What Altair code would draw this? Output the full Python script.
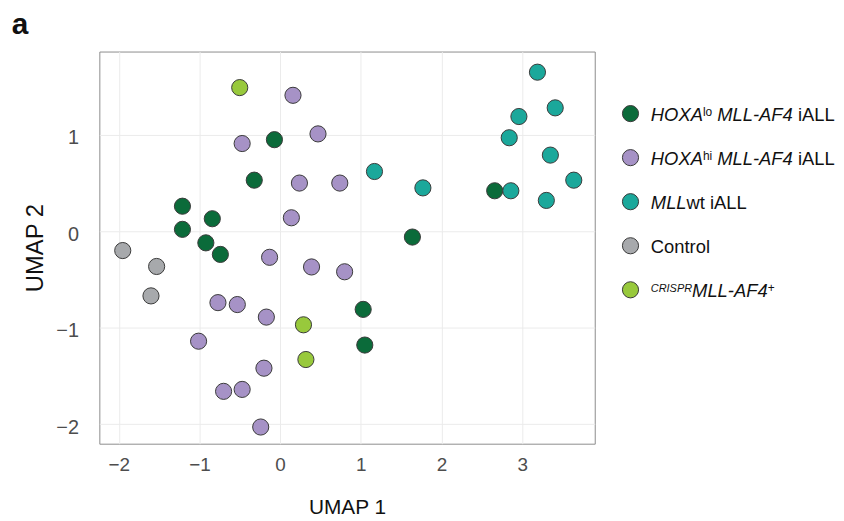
import altair as alt
import pandas as pd

FONT = "Liberation Sans, Arial, Helvetica, sans-serif"

# ---------------- data ----------------
groups = ["HOXAlo", "HOXAhi", "MLLwt", "Control", "CRISPR"]
colors = ["#0b6b3a", "#a692c6", "#1ba89b", "#a7a9ac", "#98c93c"]

control_x = [-1.95, -1.53, -1.60]
control_y = [-0.20, -0.365, -0.67]

hoxa_hi_x = [0.16, -0.47, 0.47, 0.24, 0.74, 0.14, -0.13, 0.39, 0.80, -0.77,
             -0.53, -0.17, -1.01, -0.20, -0.70, -0.47, -0.24]
hoxa_hi_y = [1.41, 0.91, 1.01, 0.50, 0.50, 0.14, -0.27, -0.37, -0.42, -0.74,
             -0.76, -0.89, -1.14, -1.42, -1.66, -1.64, -2.03]

hoxa_lo_x = [-0.07, -0.32, -1.21, -0.84, -1.21, -0.92, -0.74, 2.66, 1.64, 1.03, 1.05]
hoxa_lo_y = [0.95, 0.53, 0.26, 0.13, 0.02, -0.12, -0.24, 0.42, -0.06, -0.81, -1.18]

mllwt_x = [3.19, 3.41, 2.96, 2.84, 3.35, 1.17, 3.64, 1.77, 2.86, 3.30]
mllwt_y = [1.65, 1.28, 1.19, 0.97, 0.79, 0.62, 0.53, 0.45, 0.42, 0.32]

crispr_x = [-0.50, 0.29, 0.32]
crispr_y = [1.49, -0.97, -1.33]

x_ticks = [-2, -1.5, -1, -0.5, 0, 0.5, 1, 1.5, 2, 2.5, 3, 3.5]
y_ticks = [-2, -1.5, -1, -0.5, 0, 0.5, 1, 1.5]

# legend label pieces: (text, style, level) level 0 = normal, 1 = superscript, 2 = small superscript
legend_pieces = {
    "HOXAlo": [("HOXA", "italic", 0), ("lo", "normal", 1), (" MLL-AF4", "italic", 0), (" iALL", "normal", 0)],
    "HOXAhi": [("HOXA", "italic", 0), ("hi", "normal", 1), (" MLL-AF4", "italic", 0), (" iALL", "normal", 0)],
    "MLLwt": [("MLL", "italic", 0), ("wt iALL", "normal", 0)],
    "Control": [("Control", "normal", 0)],
    "CRISPR": [("CRISPR", "italic", 2), ("MLL-AF4", "italic", 0), ("+", "normal", 1)],
}

# ---------------- tables ----------------
rows = []
for g, xs, ys in [("Control", control_x, control_y), ("HOXAhi", hoxa_hi_x, hoxa_hi_y),
                  ("HOXAlo", hoxa_lo_x, hoxa_lo_y), ("MLLwt", mllwt_x, mllwt_y),
                  ("CRISPR", crispr_x, crispr_y)]:
    for xv, yv in zip(xs, ys):
        rows.append({"group": g, "u1": xv, "u2": yv})
df = pd.DataFrame(rows)
df["ord"] = range(len(df))

# Arial / Liberation Sans advance widths (per 1000 em) for laying out legend pieces
W = {' ': 278, '-': 333, '+': 584, '4': 556, 'A': 667, 'C': 722, 'F': 611, 'H': 722,
     'I': 278, 'L': 556, 'M': 833, 'O': 778, 'P': 667, 'R': 722, 'S': 667, 'X': 667,
     'h': 556, 'i': 222, 'l': 222, 'n': 556, 'o': 556, 'r': 333, 't': 278, 'w': 722}
LEVEL_SIZE = {0: 18.5, 1: 12, 2: 11}
TEXT_START = 29.5

prow = []
for g in groups:
    xpos = TEXT_START
    for txt, style, lvl in legend_pieces[g]:
        fs = LEVEL_SIZE[lvl]
        lead = len(txt) - len(txt.lstrip(' '))
        xpos += sum(W[c] for c in txt[:lead]) * fs / 1000
        body = txt.lstrip(' ')
        prow.append({"group": g, "text": body, "style": style,
                     "sup": lvl > 0, "fs": fs, "xpos": xpos})
        xpos += sum(W[c] for c in body) * fs / 1000
pieces = pd.DataFrame(prow)
legend_df = pd.DataFrame({"group": groups})

color_scale = alt.Scale(domain=groups, range=colors)

# ---------------- main scatter ----------------
label_expr = "datum.value % 1 === 0 ? datum.label : ''"

scatter = alt.Chart(df).mark_circle(
    size=265, opacity=1, stroke="#3a3a3a", strokeWidth=1
).encode(
    x=alt.X("u1:Q", scale=alt.Scale(domain=[-2.24, 3.90], nice=False, zero=False),
            axis=alt.Axis(values=x_ticks, labelExpr=label_expr, format="d", title="UMAP 1",
                          labelFontSize=19, labelPadding=12, titleFontSize=21, titlePadding=22)),
    y=alt.Y("u2:Q", scale=alt.Scale(domain=[-2.203, 1.864], nice=False, zero=False),
            axis=alt.Axis(values=y_ticks, labelExpr=label_expr, format="d", title="UMAP 2",
                          labelFontSize=20, labelPadding=21, labelOffset=3,
                          titleFontSize=24, titlePadding=8)),
    color=alt.Color("group:N", scale=color_scale, legend=None),
    order=alt.Order("ord:Q"),
).properties(
    width=499, height=395,
    view=alt.ViewBackground(stroke="#8c8c8c", strokeWidth=1),
)

# ---------------- custom legend ----------------
ypos = alt.Y("group:N", scale=alt.Scale(domain=groups, range=[62.5, 240], padding=0), axis=None)

leg_points = alt.Chart(legend_df).mark_circle(
    size=265, opacity=1, stroke="#3a3a3a", strokeWidth=1
).encode(
    x=alt.value(9), y=ypos,
    color=alt.Color("group:N", scale=color_scale, legend=None),
)


def text_layer(style, sup):
    return alt.Chart(pieces).transform_filter(
        (alt.datum.style == style) & (alt.datum.sup == sup)
    ).mark_text(
        align="left", baseline="alphabetic", font=FONT, fontStyle=style,
        color="#111111", dy=2 if sup else 7,
    ).encode(
        x=alt.X("xpos:Q", scale=None, axis=None),
        y=ypos,
        text="text:N",
        size=alt.Size("fs:Q", scale=None, legend=None),
    )


legend = alt.layer(
    leg_points,
    text_layer("normal", False), text_layer("italic", False),
    text_layer("normal", True), text_layer("italic", True),
).properties(width=190, height=395, view=alt.ViewBackground(stroke="white"))

chart = alt.hconcat(scatter, legend, spacing=24).properties(
    title=alt.TitleParams("a", anchor="start", fontSize=30, fontWeight="bold",
                          font=FONT, color="#111111", dx=-12, offset=11),
    padding={"left": 3, "top": 0, "right": 0, "bottom": 0},
).configure_axis(
    grid=True, gridColor="#ebebeb", gridWidth=1, domain=False, ticks=False, tickSize=0,
    labelFont=FONT, titleFont=FONT, labelColor="#4d4d4d", titleColor="#111111",
    titleFontWeight="normal",
).configure_view(strokeWidth=1)

chart.save("out.html", embed_options={"renderer": "svg", "actions": False})
